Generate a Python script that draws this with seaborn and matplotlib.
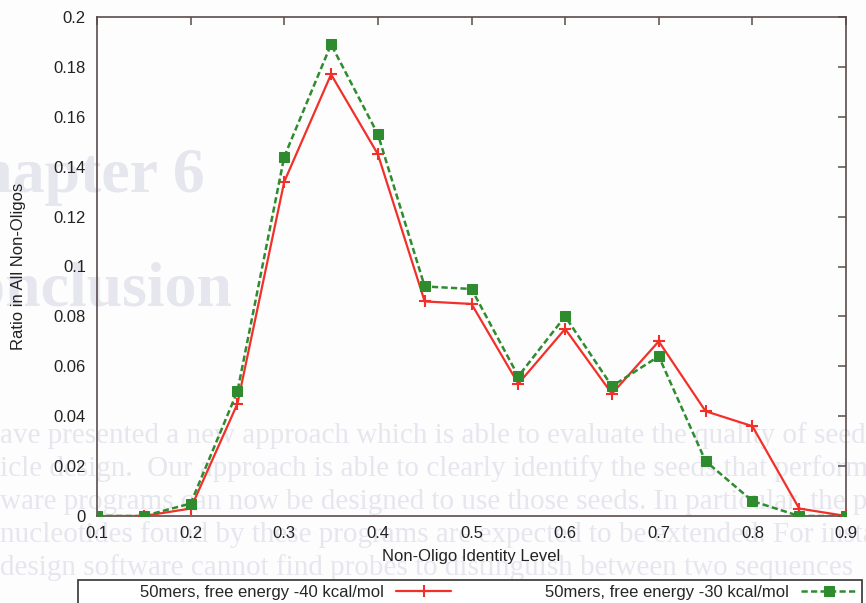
import numpy as np
import pandas as pd
import matplotlib
matplotlib.use("Agg")
import matplotlib.pyplot as plt
from matplotlib.patches import Rectangle
import seaborn as sns

# Non-oligo identity levels (step 0.05)
identity = [0.10, 0.15, 0.20, 0.25, 0.30, 0.35, 0.40, 0.45, 0.50,
            0.55, 0.60, 0.65, 0.70, 0.75, 0.80, 0.85, 0.90]
# Ratio among all non-oligos, free energy -40 kcal/mol
ratio_m40 = [0.000, 0.000, 0.003, 0.045, 0.134, 0.177, 0.145, 0.086, 0.085,
             0.053, 0.075, 0.049, 0.070, 0.042, 0.036, 0.003, 0.000]
# Ratio among all non-oligos, free energy -30 kcal/mol
ratio_m30 = [0.000, 0.000, 0.005, 0.050, 0.144, 0.189, 0.153, 0.092, 0.091,
             0.056, 0.080, 0.052, 0.064, 0.022, 0.006, 0.000, 0.000]

label_m40 = "50mers, free energy -40 kcal/mol"
label_m30 = "50mers, free energy -30 kcal/mol"
xticks = [0.1, 0.2, 0.3, 0.4, 0.5, 0.6, 0.7, 0.8, 0.9]
yticks = [0, 0.02, 0.04, 0.06, 0.08, 0.1, 0.12, 0.14, 0.16, 0.18, 0.2]

# Faint page text showing through the paper
heading_lines = ["Chapter 6", "Conclusion"]
body_lines = [
    "ave presented a new approach which is able to evaluate the quality of seeds",
    "icle design.  Our approach is able to clearly identify the seeds that perform",
    "ware programs can now be designed to use those seeds. In particular, the prog",
    "nucleotides found by these programs are expected to be extended. For insta",
    "design software cannot find probes to distinguish between two sequences",
]

df = pd.DataFrame({"identity": identity, "m40": ratio_m40, "m30": ratio_m30})

sns.set_theme(style="white")
plt.rcParams["font.family"] = ["Liberation Sans", "DejaVu Sans"]

W, H = 866, 603
fig = plt.figure(figsize=(W / 100, H / 100), dpi=100, facecolor="#fdfdfe")
ax = fig.add_axes([97 / W, 1 - 516 / H, (846 - 97) / W, (516 - 17) / H])
ax.patch.set_alpha(0)

ghost = "#e6e6ee"
for txt, xr, yc in zip(heading_lines, [205, 233], [177, 290]):
    fig.text(xr / W, 1 - yc / H, txt, ha="right", va="center",
             fontsize=46, fontweight="bold", family="Liberation Serif",
             color=ghost, zorder=-5)
for i, txt in enumerate(body_lines):
    fig.text(0, 1 - (436 + 33 * i) / H, txt, ha="left", va="center",
             fontsize=21, family="Liberation Serif", color=ghost, zorder=-5)

red = "#f2302a"
green = "#2e8c2e"
sns.lineplot(data=df, x="identity", y="m40", ax=ax, color=red, lw=1.6,
             marker="+", markersize=8, markeredgewidth=1.5, markeredgecolor=red,
             label=label_m40, zorder=3)
sns.lineplot(data=df, x="identity", y="m30", ax=ax, color=green, lw=1.8,
             linestyle=(0, (2.5, 1.3)), marker="s", markersize=6.5,
             markeredgecolor=green, markerfacecolor=green,
             label=label_m30, zorder=4)

ax.set_xlim(0.1, 0.9)
ax.set_ylim(0, 0.2)
ax.set_xticks(xticks)
ax.set_xticklabels([f"{v:g}" for v in xticks])
ax.set_yticks(yticks)
ax.set_yticklabels([f"{v:g}" for v in yticks])

spine_col = "#5a4c4c"
for s in ax.spines.values():
    s.set_visible(True)
    s.set_color(spine_col)
    s.set_linewidth(1.2)
ax.tick_params(direction="in", length=6, width=1.1, color=spine_col,
               top=True, right=True, labelsize=12, labelcolor="#222222")
ax.tick_params(axis="y", pad=8)
ax.tick_params(axis="x", pad=7)

ax.set_xlabel("Non-Oligo Identity Level", fontsize=12, color="#222222")
ax.set_ylabel("Ratio in All Non-Oligos", fontsize=12, color="#222222")
ax.xaxis.set_label_coords(0.5, -(549 - 516) / 499)
ax.yaxis.set_label_coords(-(97 - 26) / 749, 0.5)

# Legend box along the bottom edge
fig.patches.append(Rectangle((78 / W, -0.02), (862 - 78) / W, (603 - 580) / H + 0.02,
                             transform=fig.transFigure, facecolor="white",
                             edgecolor="#333333", lw=1.2, zorder=1))
ax.get_legend().remove()
handles, labels = ax.get_legend_handles_labels()
leg = fig.legend(handles, labels, loc="center right",
                 bbox_to_anchor=(856 / W, 1 - 592 / H), ncol=2, frameon=False,
                 markerfirst=False, fontsize=12, handlelength=3.3,
                 handletextpad=0.75, columnspacing=5.6, borderpad=0,
                 borderaxespad=0, numpoints=1)
leg.set_zorder(5)

fig.savefig("out.png", dpi=100, facecolor=fig.get_facecolor())
